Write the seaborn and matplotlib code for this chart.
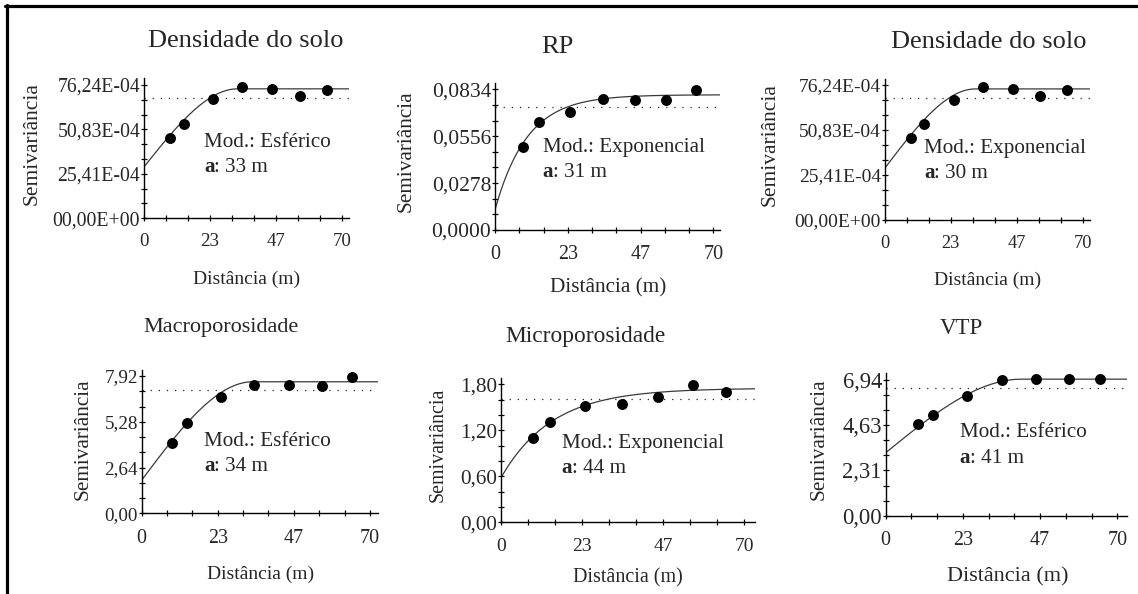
import numpy as np
import pandas as pd
import matplotlib
matplotlib.use("Agg")
import matplotlib.pyplot as plt
from matplotlib.lines import Line2D
import seaborn as sns

# ---------------- data ----------------
titles = ["Densidade do solo", "RP", "Densidade do solo",
          "Macroporosidade", "Microporosidade", "VTP"]
model_names = ["Esférico", "Exponencial", "Exponencial",
               "Esférico", "Exponencial", "Esférico"]
range_labels = ["33 m", "31 m", "30 m", "34 m", "44 m", "41 m"]

x_tick_labels = ["0", "23", "47", "70"]
y_tick_labels_dens = ["00,00E+00", "25,41E-04", "50,83E-04", "76,24E-04"]
y_tick_labels_rp = ["0,0000", "0,0278", "0,0556", "0,0834"]
y_tick_labels_macro = ["0,00", "2,64", "5,28", "7,92"]
y_tick_labels_micro = ["0,00", "0,60", "1,20", "1,80"]
y_tick_labels_vtp = ["0,00", "2,31", "4,63", "6,94"]
y_tick_max = [76.24e-4, 0.0834, 76.24e-4, 7.92, 1.80, 6.94]

lag_dens = [9.2, 14.0, 24.3, 34.6, 45.2, 55.0, 64.5]
gamma_dens = [46.1e-4, 54.1e-4, 68.0e-4, 75.2e-4, 74.0e-4, 69.9e-4, 73.3e-4]
lag_rp = [9.1, 14.2, 24.0, 34.5, 45.0, 54.7, 64.4]
gamma_rp = [0.0494, 0.0642, 0.0701, 0.0777, 0.0771, 0.0771, 0.0830]
lag_macro = [9.2, 14.0, 24.2, 34.5, 45.3, 55.2, 64.6]
gamma_macro = [4.04, 5.19, 6.73, 7.40, 7.40, 7.35, 7.88]
lag_micro = [9.2, 14.2, 24.3, 34.9, 45.1, 55.3, 64.9]
gamma_micro = [1.096, 1.312, 1.517, 1.543, 1.630, 1.791, 1.696]
lag_vtp = [9.8, 14.3, 24.6, 35.0, 45.3, 55.3, 64.9]
gamma_vtp = [4.67, 5.15, 6.12, 6.94, 6.98, 6.98, 6.98]

# fitted model parameters (nugget, total sill, range) and sample variance
nugget = [29.4e-4, 0.012, 29.2e-4, 1.92, 0.574, 3.22]
sill = [74.0e-4, 0.0802, 74.0e-4, 7.59, 1.749, 6.98]
curve_range = [33, 31, 32, 34, 44, 41]
curve_shape = ["sph", "exp", "sph", "sph", "exp", "sph"]
sample_var = [69.0e-4, 0.0727, 69.1e-4, 7.11, 1.604, 6.55]

lags = [lag_dens, lag_rp, lag_dens, lag_macro, lag_micro, lag_vtp]
gammas = [gamma_dens, gamma_rp, gamma_dens, gamma_macro, gamma_micro, gamma_vtp]
ytl = [y_tick_labels_dens, y_tick_labels_rp, y_tick_labels_dens,
       y_tick_labels_macro, y_tick_labels_micro, y_tick_labels_vtp]

# ---------------- layout (pixels) ----------------
W, H = 1138, 594
# left, right, top, bottom of axes
rects = [(144, 349, 78, 218.3), (495, 720, 83.3, 230), (884.7, 1089.7, 79, 220),
         (141.7, 378, 370, 513.3), (500.7, 755, 378.3, 522.3), (885.7, 1127.3, 372.7, 515.7)]
xmax = [72.4, 72.1, 72.4, 72.5, 73.1, 73.0]
ymax = [80.2e-4, 0.0870, 79.6e-4, 8.27, 1.878, 7.31]
title_pos = [(246, 46.7, 19), (557.5, 52.7, 19), (988.8, 48.3, 19),
             (220.8, 331.7, 16), (585, 341.7, 16.8), (961.3, 334.3, 16.5)]
xlab_pos = [(246.7, 284, 14), (608, 292.7, 15.3), (988, 285, 14),
            (260.8, 579.3, 14), (628.3, 582.7, 14.5), (1008, 581.7, 16)]
ylab_pos = [(32.5, 143.3, 15.5), (406.5, 150.8, 15.3), (770.5, 145, 15.5),
            (83.5, 439.2, 15.3), (438.5, 445, 14.3), (819, 439.2, 15.3)]
ann_pos = [(204, 146.7, 172.3), (542.7, 152.3, 177.3), (924, 152.7, 178.3),
           (204, 445.7, 470.7), (561.7, 448.3, 472.7), (959.7, 436.7, 462.7)]
ytick_fs = [14.2, 15.5, 14.0, 13.8, 15.2, 16.3]
xtick_fs = [13.6, 14.4, 13.2, 14.4, 14.0, 14.4]
xtick_pad = [8.5, 8.5, 8.5, 9.2, 9.2, 9.0]

sns.set_style("white")
plt.rcParams['font.family'] = ['Liberation Serif', 'DejaVu Serif']

fig = plt.figure(figsize=(W / 100, H / 100), dpi=100)
fig.patch.set_facecolor("white")


def fx(px):
    return px / W


def fy(py):
    return 1 - py / H


def model(h, c0, c, a, shape):
    h = np.asarray(h, dtype=float)
    if shape == "sph":
        r = np.clip(h / a, 0, 1)
        return c0 + (c - c0) * (1.5 * r - 0.5 * r ** 3)
    return c0 + (c - c0) * (1 - np.exp(-3 * h / a))


for i in range(6):
    l, r, t, b = rects[i]
    ax = fig.add_axes([fx(l), fy(b), (r - l) / W, (b - t) / H])
    ax.set_facecolor("none")
    hh = np.linspace(0, xmax[i], 300)
    curve = pd.DataFrame({"h": hh, "g": model(hh, nugget[i], sill[i], curve_range[i], curve_shape[i])})
    ax.axhline(sample_var[i], color="#222222", lw=0.9, ls=(0, (1, 5.5)))
    sns.lineplot(data=curve, x="h", y="g", ax=ax, color="#3a3a3a", lw=0.9)
    pts = pd.DataFrame({"h": lags[i], "g": gammas[i]})
    sns.scatterplot(data=pts, x="h", y="g", ax=ax, color="black", s=62, linewidth=0, zorder=5)
    ax.set_xlim(0, xmax[i])
    ax.set_ylim(0, ymax[i])
    ax.set_xticks(np.linspace(0, 70, 4))
    ax.set_xticklabels(x_tick_labels)
    ax.set_xticks(np.linspace(0, 70, 10), minor=True)
    ax.set_yticks(np.linspace(0, y_tick_max[i], 4))
    ax.set_yticklabels(ytl[i])
    ax.set_yticks(np.linspace(0, y_tick_max[i], 10), minor=True)
    ax.tick_params(which="both", bottom=True, left=True, top=False, right=False,
                   direction="inout", length=4.5, width=0.9, color="black")
    ax.tick_params(axis="x", which="major", pad=xtick_pad[i], labelsize=xtick_fs[i])
    ax.tick_params(axis="y", which="major", pad=0.5, labelsize=ytick_fs[i])
    ax.set_xlabel("")
    ax.set_ylabel("")
    for s in ["top", "right"]:
        ax.spines[s].set_visible(False)
    for s in ["left", "bottom"]:
        ax.spines[s].set_linewidth(1.0)
        ax.spines[s].set_color("black")

    tx, ty, ts = title_pos[i]
    fig.text(fx(tx), fy(ty), titles[i], ha="center", va="baseline", fontsize=ts)
    xx, xy, xs = xlab_pos[i]
    fig.text(fx(xx), fy(xy), "Distância (m)", ha="center", va="baseline", fontsize=xs)
    yx, yy, ys = ylab_pos[i]
    fig.text(fx(yx), fy(yy), "Semivariância", ha="center", va="center", rotation=90, fontsize=ys)
    ax_x, y1, y2 = ann_pos[i]
    fig.text(fx(ax_x), fy(y1), "Mod.: " + model_names[i], ha="left", va="baseline", fontsize=15.2)
    ta = fig.text(fx(ax_x), fy(y2), "a", ha="left", va="baseline", fontsize=15.2, fontweight="bold")
    fig.canvas.draw()
    bb = ta.get_window_extent()
    fig.text(bb.x1 / W, fy(y2), ": " + range_labels[i], ha="left", va="baseline", fontsize=15.2)

# outer frame (top and left edges)
fig.add_artist(Line2D([fx(5), 1.0], [fy(5.5), fy(5.5)], transform=fig.transFigure, color="black", lw=2.3))
fig.add_artist(Line2D([fx(6.5), fx(6.5)], [fy(4.5), 0.0], transform=fig.transFigure, color="black", lw=2.3))

fig.savefig("out.png", dpi=100, facecolor="white")
